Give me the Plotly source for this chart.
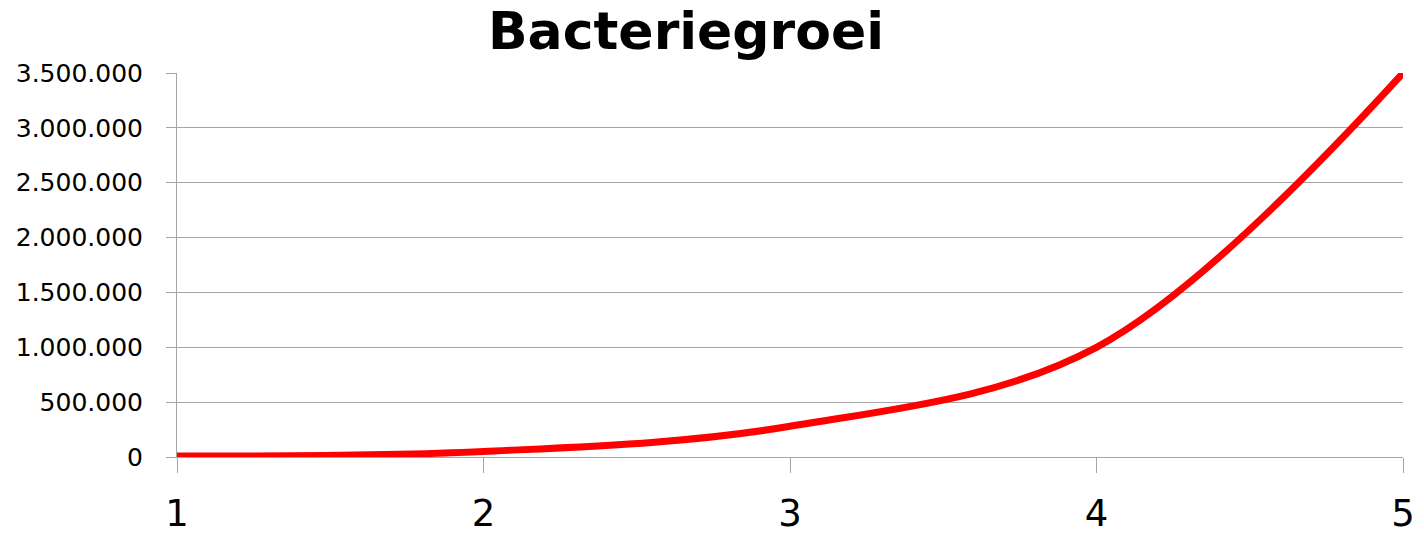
import plotly.graph_objects as go

# Data
hours = [1, 2, 3, 4, 5]
bacteria = [10000, 50000, 280000, 1000000, 3500000]
y_ticks = [0, 500000, 1000000, 1500000, 2000000, 2500000, 3000000, 3500000]
title_text = "Bacteriegroei"

W, H = 1424, 537
L, R, T, B = 177, 21, 73, 80

fig = go.Figure()
fig.add_trace(go.Scatter(
    x=hours, y=bacteria, mode="lines",
    line=dict(color="#ff0000", width=7, shape="spline", smoothing=1),
    showlegend=False, hoverinfo="x+y",
))

grid = "#a6a6a6"
fig.update_layout(
    width=W, height=H,
    margin=dict(l=L, r=R, t=T, b=B, pad=0, autoexpand=False),
    paper_bgcolor="white", plot_bgcolor="white",
    separators=",.",
    title=dict(text="<b>" + title_text + "</b>", x=686 / W, xanchor="center",
               xref="container",
               y=1 - 31 / H, yanchor="middle",
               font=dict(family="DejaVu Sans", size=52, color="black")),
    font=dict(family="DejaVu Sans", color="black"),
)
fig.update_xaxes(
    range=[1, 5], tickmode="array", tickvals=hours, ticktext=[str(h) for h in hours],
    showgrid=False, zeroline=False, showline=True, linecolor=grid, linewidth=1,
    ticks="outside", ticklen=15, tickcolor=grid, tickwidth=1,
    tickfont=dict(family="DejaVu Sans", size=37, color="black"),
    ticklabelstandoff=9, automargin=False,
)
fig.update_yaxes(
    range=[0, 3500000], tickmode="array", tickvals=y_ticks, tickformat=",d",
    showgrid=True, gridcolor=grid, gridwidth=1, zeroline=False,
    showline=True, linecolor=grid, linewidth=1,
    ticks="outside", ticklen=10, tickcolor=grid, tickwidth=1,
    tickfont=dict(family="DejaVu Sans", size=25, color="black"),
    ticklabelstandoff=18, automargin=False,
)

fig.write_html("out.html", config={"displayModeBar": False},
               post_script="document.body.style.margin='0';")
